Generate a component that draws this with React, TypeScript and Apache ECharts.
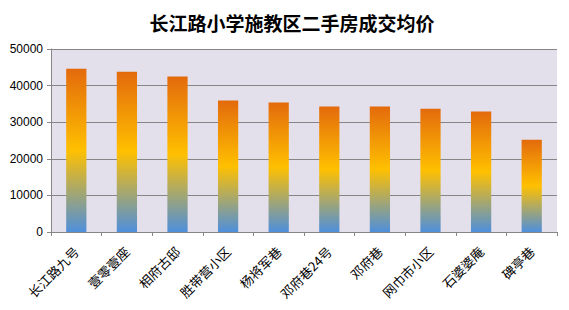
import React, { useEffect, useRef } from "react";
import * as echarts from "echarts";

const categories = ["长江路九号", "壹零壹座", "相府古邸", "胜带营小区", "杨将军巷", "邓府巷24号", "邓府巷", "网巾市小区", "石婆婆庵", "碑亭巷"];
const values = [44600, 43800, 42500, 35900, 35400, 34300, 34300, 33700, 32900, 25200];
const yTicks = [0, 10000, 20000, 30000, 40000, 50000];

export default function App() {
  const ref = useRef<HTMLDivElement>(null);
  useEffect(() => {
    const chart = echarts.init(ref.current!, null, { renderer: "svg" });
    const grad = new echarts.graphic.LinearGradient(0, 0, 0, 1, [
      { offset: 0, color: "#E36A0C" },
      { offset: 0.5, color: "#FFC000" },
      { offset: 1, color: "#4E8FDC" },
    ]);
    chart.setOption({
      animation: false,
      title: {
        text: "长江路小学施教区二手房成交均价",
        left: 287,
        textAlign: "center",
        top: 8,
        textStyle: { fontFamily: "Noto Sans CJK SC", fontWeight: "bold", fontSize: 19, color: "#000" },
      },
      grid: { left: 51, right: 12, top: 49, bottom: 78, show: true, backgroundColor: "#E3DFEB", borderWidth: 0 },
      xAxis: {
        type: "category",
        data: categories,
        boundaryGap: true,
        axisLine: { lineStyle: { color: "#868686" } },
        axisTick: { show: true, length: 4, lineStyle: { color: "#868686" }, alignWithLabel: false },
        axisLabel: {
          rotate: 45,
          interval: 0,
          margin: 17,
          fontSize: 13,
          color: "#000",
          fontFamily: "Noto Sans CJK SC",
        },
      },
      yAxis: {
        type: "value",
        min: yTicks[0],
        max: yTicks[yTicks.length - 1],
        interval: 10000,
        axisLine: { show: true, lineStyle: { color: "#868686" } },
        axisTick: { show: true, length: 4, lineStyle: { color: "#868686" } },
        splitLine: { lineStyle: { color: "#868686" } },
        axisLabel: { fontSize: 12, color: "#000", fontFamily: "Liberation Sans", margin: 8, formatter: (v: number) => String(v) },
      },
      series: [
        {
          type: "bar",
          data: values,
          barWidth: "40%",
          itemStyle: { color: grad },
        },
      ],
    });
    return () => chart.dispose();
  }, []);
  return <div ref={ref} style={{ width: 569, height: 310, position: "absolute", left: 0, top: 0, background: "#fff" }} />;
}
